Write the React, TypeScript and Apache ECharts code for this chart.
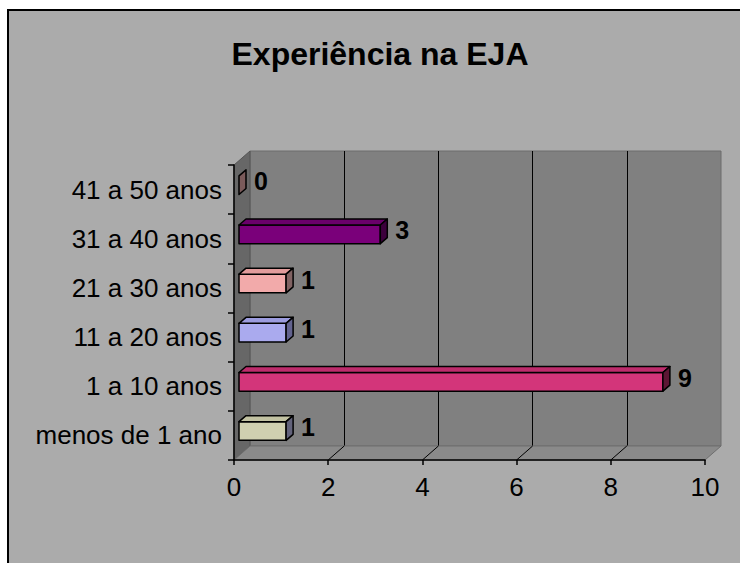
import React, { useEffect, useRef } from "react";
import * as echarts from "echarts";

const titleText = "Experiência na EJA";
const categories = ["menos de 1 ano", "1 a 10 anos", "11 a 20 anos", "21 a 30 anos", "31 a 40 anos", "41 a 50 anos"];
const values = [1, 9, 1, 1, 3, 0];
const frontColors = ["#D0D0B0", "#D3357A", "#AAAAEE", "#F2AAAA", "#7A007A", "#C89A9A"];
const topColors = ["#C2C2A2", "#BE2C6C", "#9C9CDE", "#E29C9C", "#6A006A", "#B48888"];
const sideColors = ["#62627A", "#5C1634", "#62628E", "#806262", "#3C003C", "#7A5A5A"];
const xMin = 0;
const xMax = 10;
const xStep = 2;

// layout (pixels)
const FRONT = { left: 234, top: 165, width: 471, height: 295 };
const DX = 16;
const DY = -14;
const BAR_OX = 5;
const BAR_OY = -4.4;
const BAR_DX = 7;
const BAR_DY = -6;
const FONT = "Arial, 'Liberation Sans', sans-serif";

export default function App() {
  const ref = useRef<HTMLDivElement>(null);

  useEffect(() => {
    if (!ref.current) return;
    const chart = echarts.init(ref.current, null, { renderer: "svg" });
    const gridLines: number[] = [];
    for (let v = xMin + xStep; v < xMax; v += xStep) gridLines.push(v);

    const option: any = {
      animation: false,
      title: {
        text: titleText,
        left: 375,
        top: 33,
        textAlign: "center",
        textStyle: { fontFamily: FONT, fontSize: 32, fontWeight: "bold", color: "#000" },
      },
      grid: [
        { ...FRONT, containLabel: false },
        {
          left: FRONT.left + DX,
          top: FRONT.top + DY,
          width: FRONT.width,
          height: FRONT.height,
          show: true,
          backgroundColor: "#808080",
          borderColor: "#6c6c6c",
          borderWidth: 1,
        },
      ],
      xAxis: [
        {
          gridIndex: 0,
          type: "value",
          min: xMin,
          max: xMax,
          interval: xStep,
          z: 10,
          axisLine: { show: true, lineStyle: { color: "#000", width: 1.5 } },
          axisTick: { show: true, length: 5, lineStyle: { color: "#000", width: 1.5 } },
          splitLine: { show: false },
          axisLabel: { fontFamily: FONT, fontSize: 26, color: "#000", margin: 14 },
        },
        {
          gridIndex: 1,
          type: "value",
          min: xMin,
          max: xMax,
          interval: xStep,
          axisLine: { show: false },
          axisTick: { show: false },
          axisLabel: { show: false },
          splitLine: { show: true, showMinLine: false, showMaxLine: false, lineStyle: { color: "#000", width: 1 } },
        },
      ],
      yAxis: [
        {
          gridIndex: 0,
          type: "category",
          data: categories,
          z: 10,
          axisLine: { show: true, lineStyle: { color: "#000", width: 1.5 } },
          axisTick: { show: true, length: 6, lineStyle: { color: "#000", width: 1.5 } },
          axisLabel: { fontFamily: FONT, fontSize: 26, color: "#000", margin: 12 },
        },
        { gridIndex: 1, type: "value", show: false },
      ],
      series: [
        {
          type: "custom",
          name: "frame",
          xAxisIndex: 0,
          yAxisIndex: 0,
          z: 1,
          silent: true,
          data: [[0, 0]],
          renderItem: (params: any, api: any) => {
            const cs = params.coordSys;
            const x0 = cs.x;
            const y0 = cs.y;
            const yb = cs.y + cs.height;
            const x1 = cs.x + cs.width;
            const children: any[] = [
              {
                type: "polygon",
                shape: { points: [[x0, y0], [x0 + DX, y0 + DY], [x0 + DX, yb + DY], [x0, yb]] },
                style: { fill: "#676767", stroke: "#555", lineWidth: 1 },
              },
              {
                type: "polygon",
                shape: { points: [[x0, yb], [x1, yb], [x1 + DX, yb + DY], [x0 + DX, yb + DY]] },
                style: { fill: "#8a8a8a", stroke: "#6e6e6e", lineWidth: 1 },
              },
            ];
            gridLines.forEach((v) => {
              const p = api.coord([v, 0]);
              children.push({
                type: "line",
                shape: { x1: p[0], y1: yb, x2: p[0] + DX, y2: yb + DY },
                style: { stroke: "#000", lineWidth: 1 },
              });
            });
            return { type: "group", children };
          },
        },
        {
          type: "custom",
          name: "Experiência",
          xAxisIndex: 0,
          yAxisIndex: 0,
          z: 3,
          data: values.map((v, i) => [v, i]),
          renderItem: (params: any, api: any) => {
            const i = params.dataIndex;
            const v = api.value(0);
            const c = api.value(1);
            const start = api.coord([0, c]);
            const end = api.coord([v, c]);
            const band = api.size([0, 1])[1];
            const h = band * 0.38;
            const fx0 = start[0] + BAR_OX;
            const fx1 = end[0] + BAR_OX;
            const cy = end[1] + BAR_OY;
            const yT = cy - h / 2;
            const yB = cy + h / 2;
            const stroke = { stroke: "#000", lineWidth: 1.5, lineJoin: "round" };
            const children: any[] = [];
            if (fx1 - fx0 > 0.5) {
              children.push({
                type: "rect",
                shape: { x: fx0, y: yT, width: fx1 - fx0, height: h },
                style: { fill: frontColors[i], ...stroke },
              });
              children.push({
                type: "polygon",
                shape: { points: [[fx0, yT], [fx1, yT], [fx1 + BAR_DX, yT + BAR_DY], [fx0 + BAR_DX, yT + BAR_DY]] },
                style: { fill: topColors[i], ...stroke },
              });
            }
            children.push({
              type: "polygon",
              shape: { points: [[fx1, yT], [fx1 + BAR_DX, yT + BAR_DY], [fx1 + BAR_DX, yB + BAR_DY], [fx1, yB]] },
              style: { fill: sideColors[i], ...stroke },
            });
            children.push({
              type: "text",
              style: {
                text: String(v),
                x: fx1 + BAR_DX + 8,
                y: cy + BAR_DY / 2 - 1,
                align: "left",
                verticalAlign: "middle",
                fontFamily: FONT,
                fontSize: 25,
                fontWeight: "bold",
                fill: "#000",
              },
            });
            return { type: "group", children };
          },
        },
      ],
    };
    chart.setOption(option);
    return () => chart.dispose();
  }, []);

  return (
    <div style={{ position: "fixed", left: 0, top: 0, width: 740, height: 563, background: "#fff", overflow: "hidden" }}>
      <div
        style={{
          position: "absolute",
          left: 7,
          top: 9,
          width: 760,
          height: 580,
          border: "2px solid #000",
          background: "#ABABAB",
        }}
      />
      <div ref={ref} style={{ position: "absolute", left: 0, top: 0, width: 740, height: 563 }} />
    </div>
  );
}
